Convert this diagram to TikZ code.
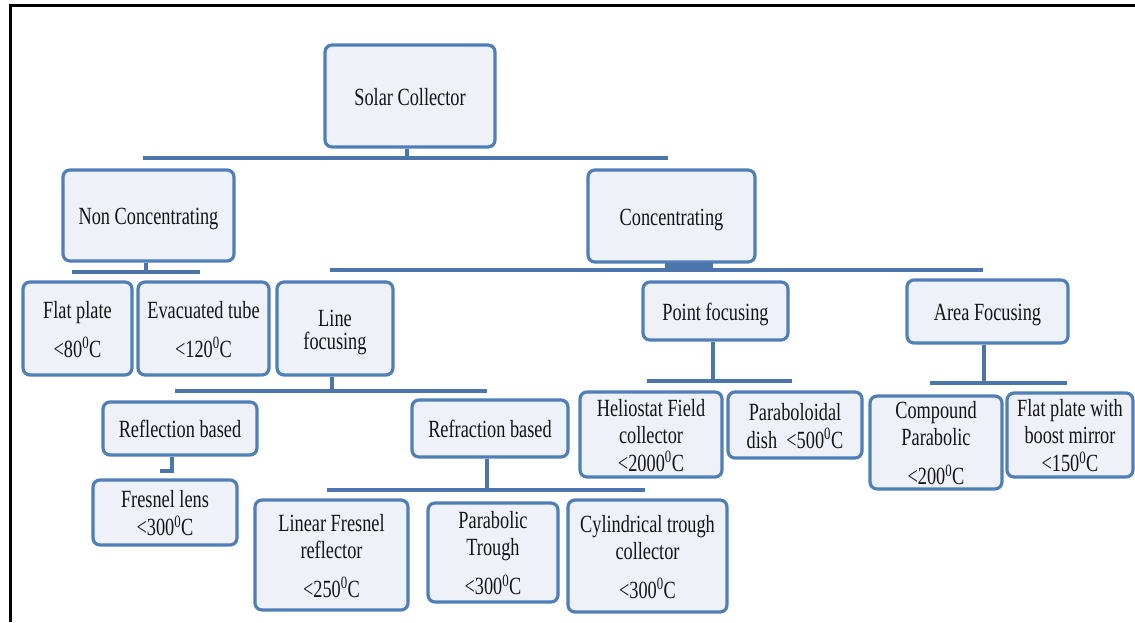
\documentclass[tikz,border=0pt]{standalone}
\usepackage{fontspec}
\setmainfont{Liberation Serif}
\usepackage{graphicx}
\definecolor{boxline}{HTML}{4F7EB8}
\definecolor{boxfill}{HTML}{EEF2F8}
\definecolor{connline}{HTML}{4C75AB}
\definecolor{txt}{HTML}{141414}
\newcommand\lbl[1]{\raisebox{-4pt}[\height][\depth]{\scalebox{1}[1.35]{\fontsize{18.3}{20}\selectfont\begin{tabular}{@{}c@{}}#1\end{tabular}}}}
\newcommand\dg{\textsuperscript{0}C}
\tikzset{
  box/.style={draw=boxline, fill=boxfill, line width=3.2pt, rounded corners=7pt,
    inner sep=0pt, text=txt, align=center},
  conn/.style={draw=connline, line width=4pt},
  frameline/.style={draw=black, line width=3pt}
}
\begin{document}
\begin{tikzpicture}[x=1pt,y=-1pt]
\useasboundingbox[fill=white] (0,0) rectangle (1135,622);
% frame
\coordinate (f1) at (9,5);
\coordinate (f2) at (1135,5);
\coordinate (f3) at (10,622);
\draw[frameline] (f2) -- (f1 -| f3) -- (f3);
% nodes
\node[box, minimum width=170pt, minimum height=102pt] (solar) at (410,96) {\lbl{Solar Collector}};
\node[box, minimum width=171pt, minimum height=91pt] (nc) at (148.5,215.5) {\lbl{Non Concentrating}};
\node[box, minimum width=167pt, minimum height=92pt] (conc) at (671.5,216) {\lbl{Concentrating}};
\node[box, minimum width=109pt, minimum height=93pt] (fp) at (77.5,328.5) {\lbl{Flat plate\\[8pt]<80\dg}};
\node[box, minimum width=131pt, minimum height=93pt] (et) at (203.5,328.5) {\lbl{Evacuated tube\\[8pt]<120\dg}};
\node[box, minimum width=116pt, minimum height=93pt] (lf) at (335,328.5) {\lbl{Line\\[-3pt]focusing}};
\node[box, minimum width=145pt, minimum height=58pt] (pf) at (715.5,311) {\lbl{Point focusing}};
\node[box, minimum width=161pt, minimum height=63pt] (af) at (987.5,311.5) {\lbl{Area Focusing}};
\node[box, minimum width=154pt, minimum height=53pt] (rb) at (180,428.5) {\lbl{Reflection based}};
\node[box, minimum width=156pt, minimum height=57pt] (rf) at (490,428.5) {\lbl{Refraction based}};
\node[box, minimum width=144pt, minimum height=65pt] (fl) at (165,512.5) {\lbl{Fresnel lens\\<300\dg}};
\node[box, minimum width=153pt, minimum height=110pt] (lfr) at (331.5,555) {\lbl{Linear Fresnel\\reflector\\[8pt]<250\dg}};
\node[box, minimum width=130pt, minimum height=99pt] (pt) at (493,552.5) {\lbl{Parabolic\\Trough\\[8pt]<300\dg}};
\node[box, minimum width=159pt, minimum height=112pt] (ct) at (647.5,556) {\lbl{Cylindrical trough\\collector\\[8pt]<300\dg}};
\node[box, minimum width=142pt, minimum height=85pt] (hf) at (651,434.5) {\lbl{Heliostat Field\\collector\\<2000\dg}};
\node[box, minimum width=134pt, minimum height=66pt] (pd) at (795,425) {\lbl{Paraboloidal\\dish\ \ <500\dg}};
\node[box, minimum width=132pt, minimum height=91pt] (cp) at (936,442.5) {\lbl{Compound\\Parabolic\\[8pt]<200\dg}};
\node[box, minimum width=126pt, minimum height=84pt] (fpb) at (1070,435) {\lbl{Flat plate with\\boost mirror\\<150\dg}};
% bar coordinates
\coordinate (b0l) at (143,158);  \coordinate (b0r) at (668,158);
\coordinate (b1l) at (72,272);   \coordinate (b1r) at (200,272);
\coordinate (b2l) at (330,270);  \coordinate (b2r) at (983,270);
\coordinate (b3l) at (175,391);  \coordinate (b3r) at (487,391);
\coordinate (b4l) at (327,490);  \coordinate (b4r) at (645,490);
\coordinate (b5l) at (647,381);  \coordinate (b5r) at (792,381);
\coordinate (b6l) at (930,383);  \coordinate (b6r) at (1067,383);
% bars
\draw[conn] (b0l) -- (b0r);
\draw[conn] (b1l) -- (b1r);
\draw[conn] (b2l) -- (b2r);
\draw[conn] (b3l) -- (b3r);
\draw[conn] (b4l) -- (b4r);
\draw[conn] (b5l) -- (b5r);
\draw[conn] (b6l) -- (b6r);
% stems
\draw[conn] ([xshift=-3pt]solar.south) -- ([xshift=-3pt]solar.south |- b0l);
\draw[conn] ([xshift=-3pt]nc.south) -- ([xshift=-3pt]nc.south |- b1l);
\coordinate (cs1) at (665,266); \coordinate (cs2) at (713,266);
\draw[conn, line width=7pt] (cs1) -- (cs2);
\draw[conn] ([xshift=-3pt]lf.south) -- ([xshift=-3pt]lf.south |- b3l);
\draw[conn] ([xshift=-3pt]rf.south) -- ([xshift=-3pt]rf.south |- b4l);
\draw[conn] ([xshift=-3pt]pf.south) -- ([xshift=-3pt]pf.south |- b5l);
\draw[conn] ([xshift=-4pt]af.south) -- ([xshift=-4pt]af.south |- b6l);
\coordinate (rbk) at (172,471); \coordinate (rbe) at (160,471);
\draw[conn] ([xshift=-8pt]rb.south) -- (rbk) -- (rbe);
\end{tikzpicture}
\end{document}
